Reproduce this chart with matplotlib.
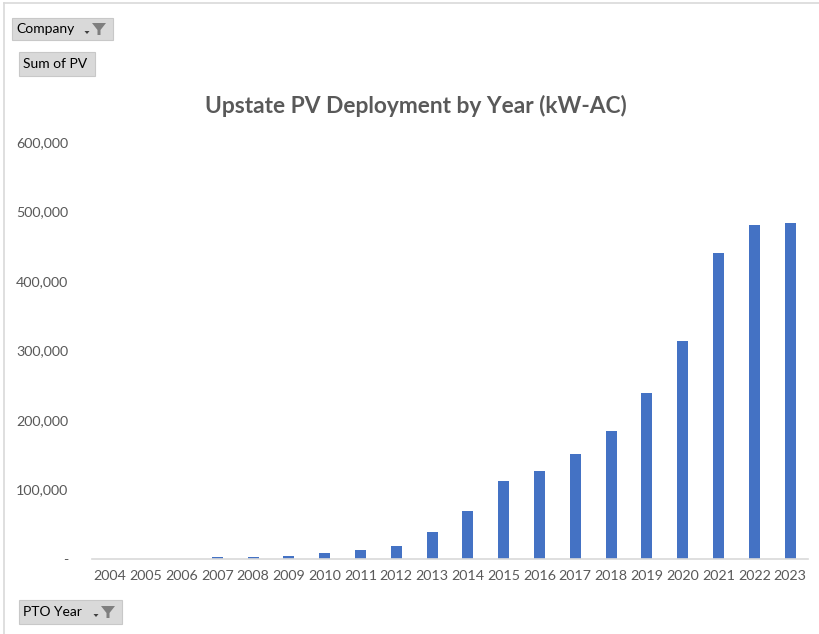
import numpy as np
import matplotlib
matplotlib.use('Agg')
import matplotlib.pyplot as plt
from matplotlib.patches import Rectangle, Polygon
from matplotlib.lines import Line2D
from matplotlib.ticker import FuncFormatter

# данные
years = ['2004', '2005', '2006', '2007', '2008', '2009', '2010', '2011', '2012', '2013',
         '2014', '2015', '2016', '2017', '2018', '2019', '2020', '2021', '2022', '2023']
pv = [0, 0, 0, 2500, 2500, 4300, 9200, 13000, 18700, 38800,
      68500, 111700, 127000, 150500, 183500, 238400, 314200, 439900, 481100, 483500]

title = 'Upstate PV Deployment by Year (kW-AC)'
grey = '#595959'
plt.rcParams['font.family'] = ['Lato', 'DejaVu Sans']

fig = plt.figure(figsize=(8.19, 6.34), dpi=100)
ax = fig.add_axes([92/819, 1 - 559/634, 716/819, 417/634])

x = np.arange(len(years))
ax.bar(x, pv, width=0.31, color='#4472c4')
ax.set_xlim(-0.5, len(years) - 0.5)
ax.set_ylim(0, 600000)
ax.set_yticks(np.arange(0, 600001, 100000))
ax.yaxis.set_major_formatter(FuncFormatter(lambda v, p: '-' if v == 0 else '{:,.0f}'.format(v)))
ax.set_xticks(x)
ax.set_xticklabels(years)
ax.tick_params(axis='both', length=0, colors=grey, labelsize=10.3)
ax.tick_params(axis='y', pad=17)
ax.tick_params(axis='x', pad=8)
for s in ['top', 'right', 'left']:
    ax.spines[s].set_visible(False)
ax.spines['bottom'].set_color('#d9d9d9')
ax.spines['bottom'].set_linewidth(1.2)

fig.text(416/819, 1 - 106/634, title, ha='center', va='center',
         fontsize=16.4, fontweight='bold', color=grey)

# рамка
fig.lines.append(Line2D([4/819, 4/819], [0, 1 - 3/634], transform=fig.transFigure,
                        color='#d9d9d9', lw=1.2))
fig.lines.append(Line2D([4/819, 1], [1 - 3/634, 1 - 3/634], transform=fig.transFigure,
                        color='#d9d9d9', lw=1.2))


def button(x0, y0, w, h, label, funnel=False):
    fig.patches.append(Rectangle((x0/819, 1 - (y0 + h)/634), w/819, h/634,
                                 transform=fig.transFigure, facecolor='#d9d9d9',
                                 edgecolor='#c8c8c8', lw=0.8))
    fig.text((x0 + 4)/819, 1 - (y0 + h/2)/634, label, ha='left', va='center',
             fontsize=10, color='black')
    if funnel:
        fx = x0 + w - 14
        fy = y0 + h/2
        fig.patches.append(Polygon([((fx - 7)/819, 1 - (fy - 6)/634),
                                    ((fx + 7)/819, 1 - (fy - 6)/634),
                                    ((fx + 1.5)/819, 1 - (fy + 1)/634),
                                    ((fx + 1.5)/819, 1 - (fy + 6)/634),
                                    ((fx - 1.5)/819, 1 - (fy + 6)/634),
                                    ((fx - 1.5)/819, 1 - (fy + 1)/634)],
                                   closed=True, transform=fig.transFigure,
                                   facecolor='#7f7f7f', edgecolor='none'))
        ax_x = fx - 12
        fig.patches.append(Polygon([((ax_x - 2.5)/819, 1 - (fy + 2)/634),
                                    ((ax_x + 2.5)/819, 1 - (fy + 2)/634),
                                    (ax_x/819, 1 - (fy + 5)/634)],
                                   closed=True, transform=fig.transFigure,
                                   facecolor='#404040', edgecolor='none'))


button(12, 18, 101, 22, 'Company', funnel=True)
button(19, 52, 76, 24, 'Sum of PV')
button(19, 600, 103, 24, 'PTO Year', funnel=True)

fig.savefig('out.png', dpi=100)
